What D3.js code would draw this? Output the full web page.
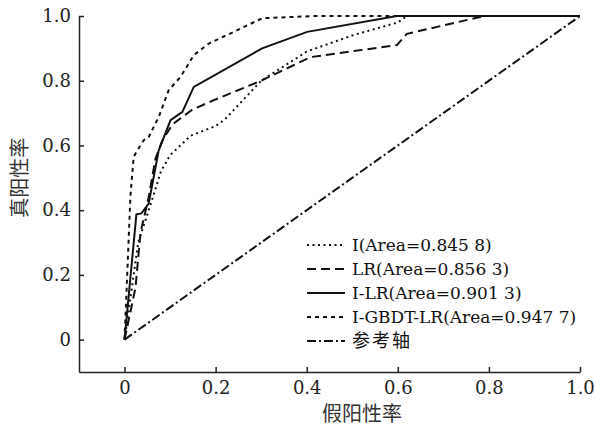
<!DOCTYPE html>
<html>
<head>
<meta charset="utf-8">
<script src="https://cdn.jsdelivr.net/npm/d3@7"></script>
<style>
  body { margin: 0; background: #fff; }
  svg { display: block; }
  .domain, .tick line { stroke: #222; stroke-width: 1.5; }
</style>
</head>
<body>
<svg id="graph" width="595" height="436"></svg>
<script>
// ROC curves, [fpr, tpr] pairs
const iPts = [[0,0],[0.03,0.3],[0.06,0.43],[0.08,0.52],[0.1,0.57],[0.145,0.63],[0.2,0.66],[0.22,0.68],[0.3,0.8],[0.4,0.89],[0.5,0.94],[0.6,0.98],[0.62,1.0],[1,1]];
const lrPts = [[0,0],[0.024,0.16],[0.035,0.33],[0.053,0.44],[0.068,0.56],[0.083,0.615],[0.105,0.665],[0.148,0.71],[0.196,0.74],[0.3,0.8],[0.408,0.873],[0.598,0.91],[0.62,0.945],[0.79,1.0],[1,1]];
const ilrPts = [[0,0],[0.026,0.387],[0.037,0.39],[0.053,0.42],[0.075,0.585],[0.101,0.678],[0.127,0.704],[0.152,0.781],[0.302,0.9],[0.401,0.951],[0.598,1.0],[1,1]];
const gbdtPts = [[0,0],[0.013,0.446],[0.02,0.564],[0.028,0.585],[0.042,0.616],[0.053,0.626],[0.075,0.688],[0.097,0.771],[0.123,0.812],[0.152,0.879],[0.185,0.915],[0.24,0.951],[0.302,0.993],[0.42,1.0],[1,1]];
const refPts = [[0,0],[1,1]];

const seriesNames = ['I(Area=0.845 8)', 'LR(Area=0.856 3)', 'I-LR(Area=0.901 3)', 'I-GBDT-LR(Area=0.947 7)', '参考轴'];
const tickVals = [0, 0.2, 0.4, 0.6, 0.8, 1.0];
const tickLabels = ['0', '0.2', '0.4', '0.6', '0.8', '1.0'];
const xTitle = '假阳性率';
const yTitle = '真阳性率';

const serif = '"DejaVu Serif", "Liberation Serif", serif';
const cjk = '"Noto Sans CJK SC", "Noto Sans CJK JP", sans-serif';

const svg = d3.select('#graph');

const x = d3.scaleLinear().domain([-0.1, 1]).range([79, 580]);
const y = d3.scaleLinear().domain([-0.1, 1]).range([372, 16]);

// axes, ticks point inward
svg.append('g')
    .attr('transform', 'translate(0,' + y(-0.1) + ')')
    .call(d3.axisBottom(x).tickValues(tickVals).tickFormat((d, i) => tickLabels[i])
        .tickSizeInner(-5).tickSizeOuter(0).tickPadding(9));

svg.append('g')
    .attr('transform', 'translate(' + x(-0.1) + ',0)')
    .call(d3.axisLeft(y).tickValues(tickVals).tickFormat((d, i) => tickLabels[i])
        .tickSizeInner(-5).tickSizeOuter(0).tickPadding(8));

svg.selectAll('.tick text')
    .style('font-family', serif)
    .style('font-size', '18px')
    .style('fill', '#222');
svg.selectAll('.domain').attr('fill', 'none');

svg.append('text')
    .attr('x', 362)
    .attr('y', 421)
    .attr('text-anchor', 'middle')
    .style('font-family', cjk)
    .style('font-size', '20px')
    .style('fill', '#333')
    .text(xTitle);

svg.append('text')
    .attr('transform', 'translate(27,' + y(0.5) + ') rotate(-90)')
    .attr('text-anchor', 'middle')
    .style('font-family', cjk)
    .style('font-size', '20px')
    .style('fill', '#333')
    .text(yTitle);

const line = d3.line()
    .x(d => x(d[0]))
    .y(d => y(d[1]));

const styles = [
    { data: iPts, dash: '2,3.5' },
    { data: lrPts, dash: '9,5' },
    { data: ilrPts, dash: null },
    { data: gbdtPts, dash: '4,4' },
    { data: refPts, dash: '9,3,2,3' }
];

styles.forEach(s => {
    svg.append('path')
        .attr('d', line(s.data))
        .attr('fill', 'none')
        .attr('stroke', '#111')
        .attr('stroke-width', 2)
        .style('stroke-dasharray', s.dash);
});

// legend
const legend = svg.append('g');
styles.forEach((s, i) => {
    const ly = 245 + i * 24;
    legend.append('line')
        .attr('x1', 307).attr('x2', 345)
        .attr('y1', ly).attr('y2', ly)
        .attr('stroke', '#111')
        .attr('stroke-width', 2)
        .style('stroke-dasharray', s.dash);
    legend.append('text')
        .attr('x', 352)
        .attr('y', ly)
        .attr('dy', '0.35em')
        .style('font-family', i === 4 ? cjk : serif)
        .style('font-size', i === 4 ? '18px' : '17px')
        .style('letter-spacing', i === 4 ? '2px' : null)
        .style('fill', '#111')
        .text(seriesNames[i]);
});
</script>
</body>
</html>
